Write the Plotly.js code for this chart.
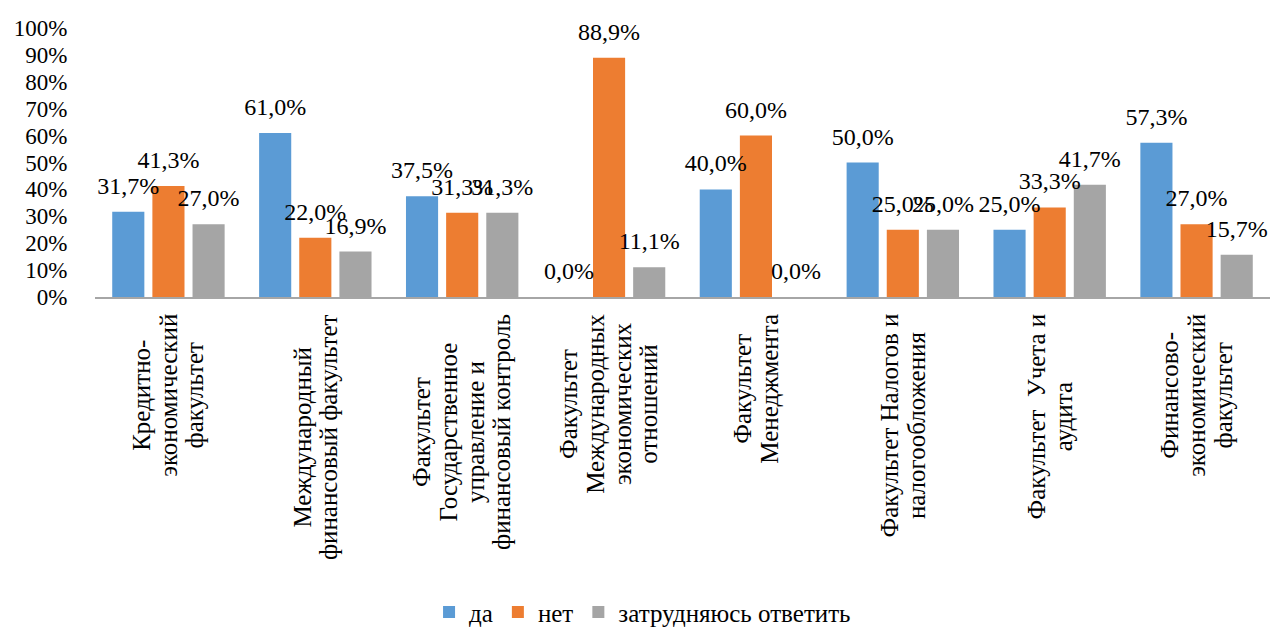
<!DOCTYPE html>
<html>
<head>
<meta charset="utf-8">
<script src="https://cdn.plot.ly/plotly-3.0.1.min.js"></script>
<style>html,body{margin:0;padding:0;background:#fff;} #chart{width:1277px;height:630px;}</style>
</head>
<body>
<div id="chart"></div>
<script>
const categories = [
  "Кредитно-экономический факультет",
  "Международный финансовый факультет",
  "Факультет Государственное управление и финансовый контроль",
  "Факультет Международных экономических отношений",
  "Факультет Менеджмента",
  "Факультет Налогов и налогообложения",
  "Факультет  Учета и аудита",
  "Финансово-экономический факультет"
];
const categoryLabelLines = [
  ["Кредитно-", "экономический", "факультет"],
  ["Международный", "финансовый факультет"],
  ["Факультет", "Государственное", "управление и", "финансовый контроль"],
  ["Факультет", "Международных", "экономических", "отношений"],
  ["Факультет", "Менеджмента"],
  ["Факультет Налогов и", "налогообложения"],
  ["Факультет  Учета и", "аудита"],
  ["Финансово-", "экономический", "факультет"]
];
const seriesNames = ["да", "нет", "затрудняюсь ответить"];
const valuesYes = [31.7, 61.0, 37.5, 0.0, 40.0, 50.0, 25.0, 57.3];
const valuesNo = [41.3, 22.0, 31.3, 88.9, 60.0, 25.0, 33.3, 27.0];
const valuesHard = [27.0, 16.9, 31.3, 11.1, 0.0, 25.0, 41.7, 15.7];
const yTickValues = [0, 10, 20, 30, 40, 50, 60, 70, 80, 90, 100];

const colors = ["#5B9BD5", "#ED7D31", "#A5A5A5"];
const FONT = "Liberation Serif";

const seriesValues = [valuesYes, valuesNo, valuesHard];

// visible bars
const barTraces = seriesValues.map((vals, i) => ({
  type: "bar",
  name: seriesNames[i],
  x: categories,
  y: vals,
  xaxis: "x", yaxis: "y",
  marker: {color: colors[i]},
  hoverinfo: "skip"
}));

// value labels: same data on an overlaid, slightly offset axis (Excel-like label distance)
const labelTraces = seriesValues.map((vals, i) => ({
  type: "bar",
  name: seriesNames[i] + " (подписи)",
  showlegend: false,
  x: categories,
  y: vals,
  xaxis: "x", yaxis: "y2",
  marker: {color: "rgba(0,0,0,0)"},
  texttemplate: "%{y:.1f}%",
  textposition: "outside",
  constraintext: "none",
  cliponaxis: false,
  textfont: {family: FONT, size: 24, color: "#000"},
  hoverinfo: "skip"
}));

const annotations = categories.map((c, i) => ({
  x: c, xref: "x",
  y: -0.055, yref: "paper",
  text: categoryLabelLines[i].map(s => "<span style='font-size:25px'>" + s + "</span>").join("<br>"),
  textangle: -90,
  showarrow: false,
  xanchor: "center",
  yanchor: "top",
  align: "center",
  font: {family: FONT, size: 20.5, color: "#000"}
}));

const layout = {
  width: 1277,
  height: 630,
  font: {family: FONT},
  margin: {l: 95, r: 7, t: 28, b: 333, autoexpand: false},
  paper_bgcolor: "#fff",
  plot_bgcolor: "#fff",
  separators: ", ",
  barmode: "group",
  bargap: 0.18,
  bargroupgap: 0.2,
  showlegend: true,
  legend: {
    orientation: "h",
    x: 0.466, xanchor: "center",
    y: -1.172, yanchor: "middle",
    font: {family: FONT, size: 25, color: "#000"},
    itemwidth: 30,
    tracegroupgap: 0,
    traceorder: "normal"
  },
  xaxis: {
    type: "category",
    showticklabels: false,
    showline: true,
    linecolor: "#A6A6A6",
    linewidth: 1.5,
    ticks: "",
    showgrid: false,
    zeroline: false
  },
  yaxis: {
    range: [0, 100],
    tickvals: yTickValues,
    ticktext: yTickValues.map(v => v + "%"),
    showgrid: false,
    zeroline: false,
    showline: false,
    ticks: "outside",
    ticklen: 22,
    tickcolor: "rgba(0,0,0,0)",
    tickfont: {family: FONT, size: 23, color: "#000"}
  },
  yaxis2: {
    overlaying: "y",
    range: [-3.7, 96.3],
    visible: false,
    showgrid: false,
    zeroline: false
  },
  annotations: annotations
};

Plotly.newPlot("chart", barTraces.concat(labelTraces), layout, {displayModeBar: false, staticPlot: true});
</script>
</body>
</html>
